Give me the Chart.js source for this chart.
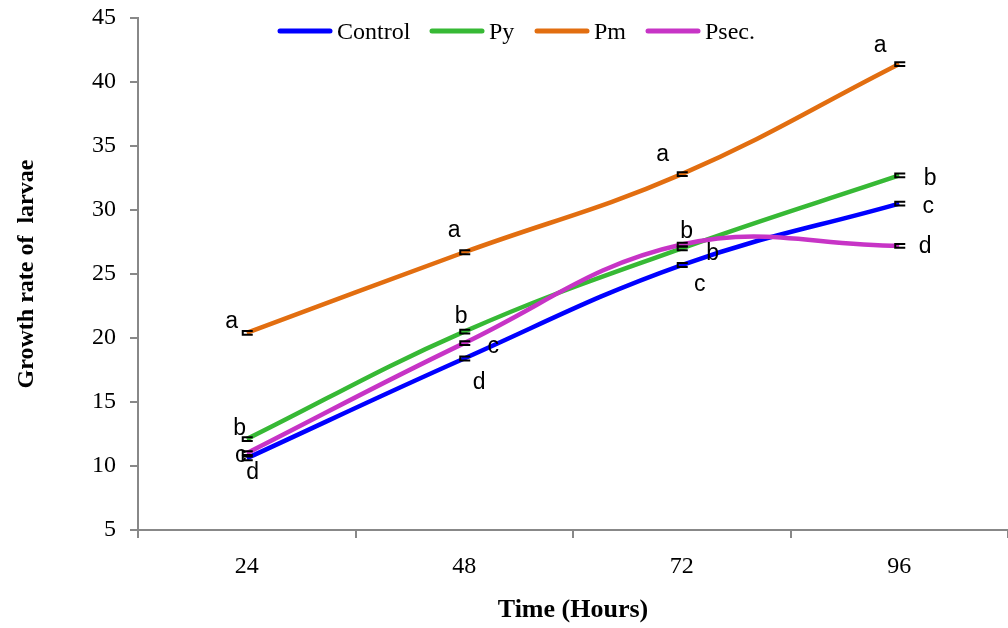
<!DOCTYPE html>
<html>
<head>
<meta charset="utf-8">
<script src="https://cdn.jsdelivr.net/npm/chart.js@4.4.0/dist/chart.umd.min.js"></script>
<style>
body{margin:0;background:#fff;}
canvas{display:block;}
</style>
</head>
<body>
<canvas id="grafico" width="1008" height="628"></canvas>
<script>
// Datos
var horas = ['24', '48', '72', '96'];
var control = [10.6, 18.4, 25.7, 30.5];
var py = [12.1, 20.5, 27.0, 32.7];
var pm = [20.4, 26.7, 32.8, 41.4];
var psec = [11.0, 19.6, 27.3, 27.2];
// barras de error (muy pequenas)
var errControl = [0.15, 0.15, 0.15, 0.15];
var errPy = [0.15, 0.15, 0.15, 0.15];
var errPm = [0.15, 0.15, 0.15, 0.15];
var errPsec = [0.15, 0.15, 0.15, 0.15];
// letras de significancia
var letrasControl = ['d', 'd', 'c', 'c'];
var letrasPy = ['b', 'b', 'b', 'b'];
var letrasPm = ['a', 'a', 'a', 'a'];
var letrasPsec = ['c', 'c', 'b', 'd'];
var ticksY = [5, 10, 15, 20, 25, 30, 35, 40, 45];

// desplazamiento de cada letra respecto al punto (px)
var despControl = [[6, 14], [15, 24], [18, 20], [29, 3]];
var despPy = [[-7, -10], [-3, -15], [5, -17], [31, 3]];
var despPm = [[-15, -11], [-10, -22], [-19, -20], [-19, -18]];
var despPsec = [[-6, 2], [29, 4], [31, 9], [26, 1]];

var serif = '"Liberation Serif", "Times New Roman", serif';

var marcas = {
    id: 'marcas',
    afterDatasetsDraw: function(chart){
        var ctx = chart.ctx;
        var y = chart.scales.y;
        chart.data.datasets.forEach(function(ds, i){
            var meta = chart.getDatasetMeta(i);
            meta.data.forEach(function(p, j){
                var v = ds.data[j], e = ds.errores[j];
                var y1 = y.getPixelForValue(v + e), y2 = y.getPixelForValue(v - e);
                ctx.save();
                ctx.strokeStyle = '#000';
                ctx.lineWidth = 2;
                ctx.beginPath();
                ctx.moveTo(p.x - 5, y1); ctx.lineTo(p.x + 6, y1);
                ctx.moveTo(p.x - 5, y2); ctx.lineTo(p.x + 6, y2);
                ctx.moveTo(p.x - 4, y1); ctx.lineTo(p.x - 4, y2);
                ctx.stroke();
                ctx.fillStyle = '#000';
                ctx.font = '23px "Liberation Sans", Arial, sans-serif';
                ctx.textAlign = 'center';
                ctx.textBaseline = 'middle';
                ctx.fillText(ds.letras[j], p.x + ds.desp[j][0], p.y + ds.desp[j][1]);
                ctx.restore();
            });
        });
    },
    afterDraw: function(chart){
        // leyenda dentro del area del grafico
        var ctx = chart.ctx;
        var inicio = [278, 430, 535, 646];
        ctx.save();
        ctx.font = '24px ' + serif;
        ctx.textBaseline = 'middle';
        ctx.textAlign = 'left';
        ctx.lineCap = 'round';
        chart.data.datasets.forEach(function(ds, i){
            ctx.strokeStyle = ds.borderColor;
            ctx.lineWidth = 5;
            ctx.beginPath();
            ctx.moveTo(inicio[i] + 2, 31);
            ctx.lineTo(inicio[i] + 52, 31);
            ctx.stroke();
            ctx.fillStyle = '#000';
            ctx.fillText(ds.label, inicio[i] + 59, 33);
        });
        ctx.restore();
    }
};

var datos = {
    labels: horas,
    datasets: [
        {label: 'Control', data: control, errores: errControl, letras: letrasControl, desp: despControl,
         borderColor: '#0000FF', order: 2},
        {label: 'Py', data: py, errores: errPy, letras: letrasPy, desp: despPy,
         borderColor: '#37B935', order: 3},
        {label: 'Pm', data: pm, errores: errPm, letras: letrasPm, desp: despPm,
         borderColor: '#E26E10', order: 4},
        {label: 'Psec.', data: psec, errores: errPsec, letras: letrasPsec, desp: despPsec,
         borderColor: '#C734C6', order: 1}
    ]
};
datos.datasets.forEach(function(ds){
    ds.borderWidth = 4.5;
    ds.pointRadius = 0;
    ds.tension = 0.4;
    ds.fill = false;
});

var ctx = document.getElementById('grafico');
var grafico = new Chart(ctx, {
    type: 'line',
    data: datos,
    plugins: [marcas],
    options: {
        responsive: false,
        animation: false,
        layout: {padding: {top: 18, right: 0, left: 0, bottom: 0}},
        plugins: {legend: {display: false}, tooltip: {enabled: false}},
        scales: {
            x: {
                offset: true,
                grid: {offset: true, drawOnChartArea: false, tickLength: 8, color: '#888', lineWidth: 2},
                border: {color: '#888', width: 2},
                ticks: {color: '#000', font: {family: serif, size: 24}, padding: 14},
                title: {display: true, text: 'Time (Hours)', color: '#000',
                        font: {family: serif, size: 26, weight: 'bold'}, padding: {top: 0, bottom: 2}},
                afterFit: function(s){ s.height = 98; s.paddingLeft = 0; s.paddingRight = 0; }
            },
            y: {
                min: 5, max: 45,
                afterBuildTicks: function(s){ s.ticks = ticksY.map(function(v){ return {value: v}; }); },
                grid: {drawOnChartArea: false, tickLength: 8, color: '#888', lineWidth: 2},
                border: {color: '#888', width: 2},
                ticks: {color: '#000', font: {family: serif, size: 24}, padding: 14},
                title: {display: true, text: 'Growth rate of  larvae', color: '#000',
                        font: {family: serif, size: 24, weight: 'bold'}, padding: {top: 12, bottom: 0}},
                afterFit: function(s){ s.width = 138; s.paddingTop = 0; s.paddingBottom = 0; }
            }
        }
    }
});
</script>
</body>
</html>
